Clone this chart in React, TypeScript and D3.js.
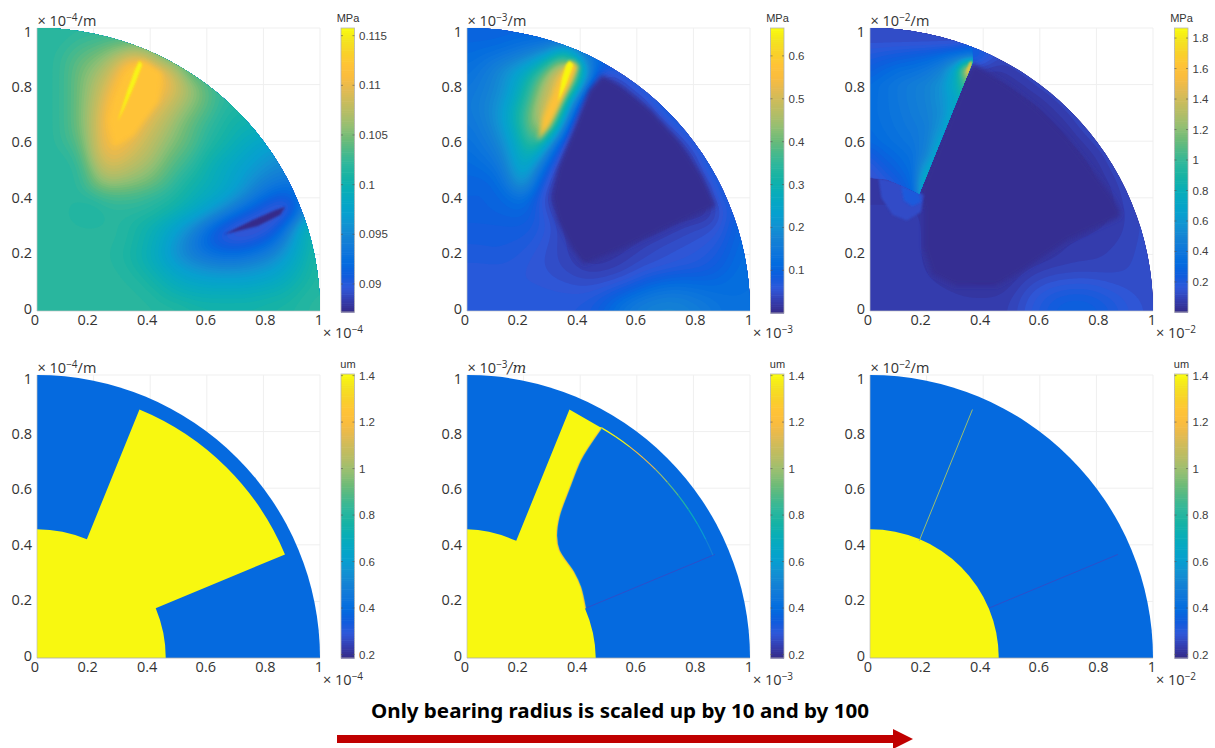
import React, { useMemo } from "react";
import * as d3 from "d3";

// parula colormap stops
const parulaStops = ["#352a87","#343daf","#2f58d9","#0f5cdd","#036cdf","#0f77db","#1482d4","#1292d2","#07a0cf","#06a7c4","#0aaeb6","#17b3a4","#2db79d","#4ab98a","#6dbb78","#92bf73","#b0bd68","#c8bc5d","#e2ba52","#f9bc3f","#ffc337","#f9d12a","#f4e31f","#f9fb0e"];

const tickLabels = ["0", "0.2", "0.4", "0.6", "0.8", "1"];
const tickValues = [0, 0.2, 0.4, 0.6, 0.8, 1];
const tickLabelShift = [-2, -6, -3, -1, 2, -1];

// Contact pressure fields, rows run from y = 1 down to y = 0 in steps of 0.05,
// columns from x = 0 in steps of 0.05 (a short row keeps its last value out to x = 1)
// bearing 1: 1e-3 MPa
const pressureSmall = [
  [102],
  [102,102,102,103,103,104,104],
  [102,102,103,104,105,106,108,110,107,103],
  [102,102,103,105,106,108,111.5,115,113,111,107,102],
  [102,102,103,105,107,109.5,112,114,112.5,111,109,106.5,104,102],
  [102,102,103,105,107.5,110.5,114,113,111.5,110,108,106,104.5,102.5,102],
  [102,102,103,105,108,111.5,113.5,111.5,110,108.5,106.5,105,103.5,102,101,101],
  [102,102,103,105,108,112,112.5,111,109,107.5,105.5,104,102.5,101.5,100.5,100,100],
  [102,102,103,104,108,111.5,111,109.5,108,106.5,105,104,102,101,100,99,98,98],
  [102,102,102,103,108,110.5,110,108.5,107.5,105.5,104,103,101,100,99,98,97,96,96],
  [102,102,102,102,106,109,108,107,106,104.5,103,102,100,99,98,97,96,95,95],
  [102,102,102,102,105,106.5,106,105.5,105,103.5,102,100.5,100,99,98,96,94.5,93.5,93,93],
  [102,102,102,102,102,103,103,103,102,102,101,100,99,98,96.5,94.5,92.5,91,91,95,100],
  [102,102,102,101.5,101,102,102,102,102,101,100,99,97.5,95.5,93,91,89.5,88.5,88.5,95,100],
  [102,102,102,102,102,102,102,101,100,99,97.5,95.5,93,90.5,89,88.5,89,90,95,101,101],
  [102,102,102,102,102,102,102,101,100,98.5,96,94,91.5,90,89.5,90,91,93,96.5,100,101],
  [102,102,102,102,102,102,101.5,100.5,99.5,97.5,95.5,94,93,92.5,92.5,93,94,95.5,98,100,102],
  [102,102,102,102,102,102,102,101,100,99,97.5,96.5,96,95.5,95.5,96,96.5,97.5,99,100.5,102],
  [102,102,102,102,102,102,102,102,101,100,99,98.5,98,98,98,98,98.5,99,100,101,102],
  [102,102,102,102,102,102,102,102,102,101,100.5,100,100,100,100,100,100.5,100.5,101,102,102],
  [102,102,102,102,102,102,102,102,102,102,102,101.5,101,101,101,101,101,101.5,101.5,102,102],
];
// bearing 10: 1e-2 MPa
const pressureMedium = [
  [10],
  [11,11,11,12,13,13,13],
  [12,13,14,15,17,20,26,40,14,12],
  [13,15,18,22,26,33,46,63,40,11,6,9],
  [14,16,18,22,30,40,53,60,23,3,1.5,4,9],
  [15,17,19,24,32,43,58,36,6,1.5,1,1,3,8,10],
  [15,17,20,27,36,47,60,20,2,1,1,1,1,3,9,10],
  [14,16,19,26,35,48,45,7,1.5,1,1,1,1,1,3,9],
  [13,15,17,23,32,42,18,3,1,1,1,1,1,1,1,3,9],
  [12,14,15,21,31,27,9,2,1,1,1,1,1,1,1,1,4,10],
  [11,12,13,18,30,16,5,1.5,1,1,1,1,1,1,1,1,1.5,9],
  [11,10,11,16,26,10,3,1,1,1,1,1,1,1,1,1,1,4,10],
  [10,10,10.5,11,14,7,2,1,1,1,1,1,1,1,1,1,1,2,9],
  [10,10,10.5,11,11.5,8,4,2,1,1,1,1,1,1,1,1,1,1.5,5,10],
  [9,9,9,9,9,8,6,3,1,1,1,1,1,1,2,3.5,4.5,5,6,11,12],
  [8.5,8.5,8.5,8.5,8.5,7,5,4,2,1,1,1.5,2.5,3.5,4.5,5,5.5,6,7.5,11,12],
  [8,8,8.5,8,7,6,5,4,2.5,1.2,2,3,4,5,5.5,6,6.5,7.5,9,11.5,13],
  [7,7,7,7,6.5,6,5,4.5,3.5,3,3.5,4,5,5.5,6,7,7.5,8.5,10,12,13],
  [6.5,6.5,6.5,6.5,6.5,6.5,6,5.5,5,5,5.5,6,8,10.5,12,12.5,12,11.5,12,13,13],
  [7,7,7,7,7,7,7,7,7,7.5,9,12,14,15.5,16,16,15,14,13,13,13],
  [7.5,7.5,7.5,7.5,7.5,7.5,7.5,7.5,7.5,9,12,15,17,18,19,18.5,17,16,14,13,13],
];
// bearing 100: 1e-2 MPa
const pressureLarge = [
  [14],
  [14,14,14,14,14,14,15,18,18,15],
  [14,14,14,14,14,14,14,45,30,14],
  [5,5,5,5,5,5,5,4,4,6,10,14],
  [4,4,4,4,4,4,4,4,4,4,5,8,14],
  [4,4,4,4,4,4,4,4,4,4,4,4,6,12,14],
  [4,4,4,4,4,4,4,4,4,4,4,4,4,6,12,14],
  [4,4,4,4,4,4,4,4,4,4,4,4,4,4,6,14],
  [4,4,4,4,4,4,4,4,4,4,4,4,4,4,4,7,14],
  [4,4,4,4,4,4,4,4,4,4,4,4,4,4,4,4,8,14],
  [4,4,4,4,4,4,4,4,4,4,4,4,4,4,4,4,5,12,14],
  [8,8,8,8,4,4,4,4,4,4,4,4,4,4,4,4,4,8,14],
  [8,8,8,8,8,5,4,4,4,4,4,4,4,4,4,4,4,5,13,14],
  [8,8,8,8,8,4,4,4,4,4,4,4,4,4,4,4,4,8,10,14],
  [9,9,9,9,8,4,4,4,4,4,4,4,4,4,4,6,8,9,10,14,14],
  [9,9,9,9,8,4,4,4,4,4,4,4,4,6,8,9,9,10,11,14,14],
  [9,9,9,9,8,4,4,4,4,4,4,4,4,7,9,10,10,11,12,14,15],
  [9,9,9,9,8,6,4,4,4,4,4,7,10,11,11,11,11,12,13,14,15],
  [9,9,9,9,9,8,7,4,4,4,7,12,14,16,17,18,17,15,14,14,15],
  [9,9,9,9,9,9,9,9,9,9,10,15,20,24,26,26,24,21,18,15,15],
  [9,9,9,9,9,9,9,9,9,9,11,17,22,27,30,30,28,24,20,16,15],
];
// region left of the slider edge at bearing 100, rows y = 1 down to y = 0.4
const pressureLargeWedge = [
  [14],
  [15,15,15,15,15,15,15,18,18],
  [22,24,26,28,30,34,40,45,45],
  [28,32,36,38,42,50,72,150,200],
  [34,38,42,46,50,58,78,115,140],
  [35,38,42,46,50,58,72,95,95],
  [35,38,41,45,49,56,76,85],
  [34,37,40,43,47,60,85,85],
  [32,35,38,41,48,70,85],
  [24,30,34,38,52,80,90],
  [17,24,30,36,68,95],
  [13,18,24,34,85,100],
  [12,14,18,30,90,90],
];
const wedgeOutline = [[0,1],[0.362,1],[0.362,0.878],[0.174,0.414],[0.12,0.44],[0.06,0.465],[0,0.47]];

// narrow ridges and flat zones: outline points in axis units and the value they reach
const zoneSmallHot = [[0.37,0.885],[0.44,0.84],[0.43,0.74],[0.34,0.62],[0.27,0.58],[0.255,0.68],[0.31,0.82]];
const ridgeSmallHigh = [[0.362,0.885],[0.372,0.87],[0.345,0.8],[0.305,0.71],[0.285,0.67],[0.32,0.78],[0.345,0.85]];
const ridgeSmallLow = [[0.877,0.368],[0.86,0.34],[0.78,0.3],[0.66,0.27],[0.76,0.32],[0.84,0.355]];
const zoneMediumHot = [[0.37,0.885],[0.395,0.865],[0.345,0.76],[0.29,0.65],[0.25,0.6],[0.265,0.68],[0.31,0.79],[0.345,0.86]];
const ridgeMediumHigh = [[0.362,0.885],[0.376,0.87],[0.35,0.8],[0.322,0.74],[0.335,0.82],[0.35,0.87]];
const ridgeLargeHigh = [[0.362,0.882],[0.344,0.835],[0.343,0.85],[0.352,0.88]];
const coreMedium = [[0.478,0.835],[0.55,0.79],[0.65,0.71],[0.75,0.6],[0.83,0.48],[0.88,0.37],[0.7,0.29],[0.55,0.22],[0.413,0.165],[0.37,0.22],[0.32,0.32],[0.30,0.4],[0.32,0.5],[0.38,0.65],[0.43,0.78]];
const coreLarge = [[0.174,0.414],[0.362,0.878],[0.5,0.79],[0.6,0.71],[0.7,0.61],[0.8,0.48],[0.86,0.4],[0.885,0.35],[0.88,0.33],[0.7,0.25],[0.52,0.13],[0.45,0.09],[0.3,0.09],[0.22,0.13],[0.19,0.22],[0.19,0.36]];
const lobeLargeOuter = [[0.03,0.47],[0.04,0.4],[0.08,0.34],[0.13,0.32],[0.18,0.35],[0.19,0.41],[0.12,0.45]];
const lobeLargeInner = [[0.11,0.44],[0.12,0.39],[0.15,0.37],[0.18,0.385],[0.174,0.42]];

// film thickness geometry
const bearingRadius = 0.455;
const padOuterRadius = 0.942;
const padTopCorner = [0.362, 0.878];
const padLeftCorner = [0.174, 0.414];
const padRightCorner = [0.876, 0.366];
const padLowCorner = [0.417, 0.175];
const filmFrontMedium = [[0.474,0.814],[0.43,0.75],[0.40,0.70],[0.36,0.60],[0.324,0.50],[0.315,0.43],[0.324,0.38],[0.377,0.30],[0.40,0.25],[0.417,0.175]];
const thinFilmValues = [1.4,1.4,1.25,1.15,1.0,0.9,0.8,0.7,0.6,0.5];

const filmLow = 0.39;
const filmHigh = 1.4;

const cbarPressureSmallTicks = [0.09,0.095,0.1,0.105,0.11,0.115];
const cbarPressureMediumTicks = [0.1,0.2,0.3,0.4,0.5,0.6];
const cbarPressureLargeTicks = [0.2,0.4,0.6,0.8,1,1.2,1.4,1.6,1.8];
const cbarFilmTicks = [0.2,0.4,0.6,0.8,1,1.2,1.4];

const SANS = "'Open Sans', sans-serif";
const HELV = "'Liberation Sans', Arial, sans-serif";
const SIZE = 283;

const parula = d3.scaleLinear<string>()
  .domain(d3.range(parulaStops.length).map((i) => i / (parulaStops.length - 1)))
  .range(parulaStops)
  .interpolate(d3.interpolateRgb);

function contourLayers(rows: number[][], domain: [number, number], left: number, top: number, blur: number) {
  const factor = 7;
  const cols = 21;
  const full = rows.map((r) => d3.range(cols).map((i) => (i < r.length ? r[i] : r[r.length - 1])));
  const nx = (cols - 1) * factor + 1;
  const ny = (full.length - 1) * factor + 1;
  const values = new Float64Array(nx * ny);
  for (let j = 0; j < ny; j++) {
    const fy = j / factor, j0 = Math.min(Math.floor(fy), full.length - 2), ty = fy - j0;
    for (let i = 0; i < nx; i++) {
      const fx = i / factor, i0 = Math.min(Math.floor(fx), cols - 2), tx = fx - i0;
      values[j * nx + i] =
        (full[j0][i0] * (1 - tx) + full[j0][i0 + 1] * tx) * (1 - ty) +
        (full[j0 + 1][i0] * (1 - tx) + full[j0 + 1][i0 + 1] * tx) * ty;
    }
  }
  d3.blur2({ data: values, width: nx, height: ny }, blur);
  const levels = d3.range(1, 72).map((i) => domain[0] + ((domain[1] - domain[0]) * i) / 72);
  const k = SIZE / (nx - 1);
  const projection = d3.geoIdentity().scale(k).translate([left - 0.5 * k, top - 0.5 * k]);
  const geo = d3.geoPath(projection as any);
  const color = (v: number) => parula((v - domain[0]) / (domain[1] - domain[0]));
  const contours = d3.contours().size([nx, ny]).thresholds(levels)(values as any);
  return contours
    .filter((c) => c.coordinates.length > 0)
    .map((c) => ({ d: geo(c as any) as string, fill: color(c.value) }));
}

function ColorBar({ x, top, bottom, domain, ticks, unit }: any) {
  const y = d3.scaleLinear().domain(domain).range([bottom, top]);
  const steps = d3.range(0, 128);
  const h = (bottom - top) / 128;
  return (
    <g>
      {steps.map((i) => (
        <rect key={i} x={x} y={bottom - (i + 1) * h} width={13.5} height={h + 0.6} fill={parula((i + 0.5) / 128)} />
      ))}
      <rect x={x} y={top} width={13.5} height={bottom - top} fill="none" stroke="#b5b5b5" strokeWidth={0.8} />
      {ticks.map((t: number) => (
        <g key={t}>
          <line x1={x} x2={x + 2} y1={y(t)} y2={y(t)} stroke="#555" strokeWidth={0.6} />
          <line x1={x + 11.5} x2={x + 13.5} y1={y(t)} y2={y(t)} stroke="#555" strokeWidth={0.6} />
          <text x={x + 18} y={y(t) + 4} fontFamily={HELV} fontSize={11.5} fill="#404040">{t}</text>
        </g>
      ))}
      <text x={x + 7} y={top - 6} textAnchor="middle" fontFamily={HELV} fontSize={11} fill="#333">{unit}</text>
    </g>
  );
}

function Frame({ left, top, exp, italicUnit }: any) {
  const x = d3.scaleLinear().domain([0, 1]).range([left, left + SIZE]);
  const yLab = d3.scaleLinear().domain([0, 1]).range([top + SIZE - 2.5, top + 3.5]);
  return (
    <g>
      {tickLabels.map((t, i) => (
        <g key={t}>
          <text x={x(tickValues[i]) + tickLabelShift[i]} y={top + SIZE + 14} textAnchor="middle" fontFamily={SANS} fontSize={14.5} fill="#333">{t}</text>
          <text x={left - 5} y={yLab(tickValues[i]) + 5} textAnchor="end" fontFamily={SANS} fontSize={14.5} fill="#333">{t}</text>
        </g>
      ))}
      <text x={left + 0.5} y={top - 2} fontFamily={SANS} fontSize={14.5} fill="#333">
        × 10<tspan dy={-5} fontSize={10}>−{exp}</tspan>
        <tspan dy={5} fontFamily={italicUnit ? "'DejaVu Serif', serif" : SANS} fontStyle={italicUnit ? "italic" : "normal"}>/m</tspan>
      </text>
      <text x={left + SIZE + 3} y={top + SIZE + 27} fontFamily={SANS} fontSize={14.5} fill="#333">
        × 10<tspan dy={-5} fontSize={10}>−{exp}</tspan>
      </text>
    </g>
  );
}

function Grid({ left, top }: any) {
  const x = d3.scaleLinear().domain([0, 1]).range([left, left + SIZE]);
  const y = d3.scaleLinear().domain([0, 1]).range([top + SIZE, top]);
  return (
    <g stroke="#efefef" strokeWidth={1}>
      {tickValues.slice(1).map((t) => (
        <g key={t}>
          <line x1={x(t)} x2={x(t)} y1={y(0)} y2={y(1)} />
          <line x1={x(0)} x2={x(1)} y1={y(t)} y2={y(t)} />
        </g>
      ))}
    </g>
  );
}

function disc(left: number, top: number, r = 1) {
  const p = d3.path();
  const cy = top + SIZE;
  p.moveTo(left, cy);
  p.lineTo(left + r * SIZE, cy);
  p.arc(left, cy, r * SIZE, 0, -Math.PI / 2, true);
  p.closePath();
  return p.toString();
}

function poly(points: number[][], left: number, top: number) {
  const x = d3.scaleLinear().domain([0, 1]).range([left, left + SIZE]);
  const y = d3.scaleLinear().domain([0, 1]).range([top + SIZE, top]);
  return d3.line()(points.map((q) => [x(q[0]), y(q[1])] as [number, number])) + "Z";
}

function PressurePanel({ id, left, top, rows, domain, exp, ridges, wedge }: any) {
  const layers = useMemo(() => contourLayers(rows, domain, left, top, 3.5), []);
  const wedgeLayers = useMemo(() => (wedge ? contourLayers(wedge.rows, domain, left, top, 1) : []), []);
  const color = (v: number) => parula((v - domain[0]) / (domain[1] - domain[0]));
  return (
    <g>
      <Grid left={left} top={top} />
      <clipPath id={id}><path d={disc(left, top)} /></clipPath>
      <g clipPath={`url(#${id})`}>
        <rect x={left} y={top} width={SIZE} height={SIZE} fill={color(domain[0])} />
        {layers.map((l, i) => <path key={i} d={l.d} fill={l.fill} />)}
        {(ridges || []).map((r: any, i: number) => (
          <path key={i} d={poly(r.points, left, top)} fill={color(r.value)} filter={`url(#${r.soft || "soft"})`} />
        ))}
        {wedge && (
          <g>
            <clipPath id={id + "w"}><path d={poly(wedge.outline, left, top)} /></clipPath>
            <g clipPath={`url(#${id}w)`}>
              {wedgeLayers.map((l, i) => <path key={i} d={l.d} fill={l.fill} />)}
              {wedge.ridges.map((r: any, i: number) => (
                <path key={i} d={poly(r.points, left, top)} fill={color(r.value)} filter="url(#soft)" />
              ))}
            </g>
          </g>
        )}
      </g>
      <line x1={left} x2={left} y1={top} y2={top + SIZE} stroke="#c4c4c4" strokeWidth={0.7} />
      <line x1={left} x2={left + SIZE} y1={top + SIZE} y2={top + SIZE} stroke="#c4c4c4" strokeWidth={0.7} />
      <Frame left={left} top={top} exp={exp} />
    </g>
  );
}

function FilmPanel({ left, top, exp, mode, domain }: any) {
  const color = (v: number) => parula((v - domain[0]) / (domain[1] - domain[0]));
  const x = d3.scaleLinear().domain([0, 1]).range([left, left + SIZE]);
  const y = d3.scaleLinear().domain([0, 1]).range([top + SIZE, top]);
  const ang = (q: number[]) => -Math.atan2(q[1], q[0]);
  const rTop = Math.hypot(padTopCorner[0], padTopCorner[1]);
  const R = bearingRadius * SIZE;
  const arcThin = d3.range(thinFilmValues.length).map((i) => {
    const a0 = Math.atan2(filmFrontMedium[0][1], filmFrontMedium[0][0]);
    const a1 = Math.atan2(padRightCorner[1], padRightCorner[0]);
    const n = thinFilmValues.length;
    const p = d3.path();
    p.arc(x(0), y(0), padOuterRadius * SIZE, -(a0 + ((a1 - a0) * i) / n), -(a0 + ((a1 - a0) * (i + 1)) / n));
    return { d: p.toString(), v: thinFilmValues[i] };
  });
  const frontCurve = d3.line().curve(d3.curveCatmullRom)(
    filmFrontMedium.map((q) => [x(q[0]), y(q[1])] as [number, number])
  ) as string;
  let shape: string;
  if (mode === "full") {
    const p = d3.path();
    p.moveTo(x(0), y(0));
    p.lineTo(x(0), y(bearingRadius));
    p.arc(x(0), y(0), R, -Math.PI / 2, ang(padLeftCorner));
    p.lineTo(x(padTopCorner[0]), y(padTopCorner[1]));
    p.arc(x(0), y(0), rTop * SIZE, ang(padTopCorner), ang(padRightCorner));
    p.lineTo(x(padLowCorner[0]), y(padLowCorner[1]));
    p.arc(x(0), y(0), R, ang(padLowCorner), 0);
    p.closePath();
    shape = p.toString();
  } else if (mode === "medium") {
    shape = frontCurve +
      `A${R},${R} 0 0 1 ${x(bearingRadius)},${y(0)}L${x(0)},${y(0)}L${x(0)},${y(bearingRadius)}` +
      `A${R},${R} 0 0 1 ${x(padLeftCorner[0])},${y(padLeftCorner[1])}L${x(padTopCorner[0])},${y(padTopCorner[1])}Z`;
  } else {
    shape = disc(left, top, bearingRadius);
  }
  return (
    <g>
      <Grid left={left} top={top} />
      <path d={disc(left, top)} fill={color(filmLow)} />
      {mode !== "full" && (
        <line x1={x(padRightCorner[0])} y1={y(padRightCorner[1])} x2={x(padLowCorner[0])} y2={y(padLowCorner[1])} stroke={color(0.27)} strokeWidth={1} opacity={0.9} />
      )}
      {mode === "medium" && arcThin.map((s, i) => (
        <path key={i} d={s.d} fill="none" stroke={color(s.v)} strokeWidth={1.2} />
      ))}
      {mode === "medium" && <path d={frontCurve} fill="none" stroke={color(0.6)} strokeWidth={3} />}
      {mode === "medium" && <path d={frontCurve} fill="none" stroke={color(1.2)} strokeWidth={1.8} />}
      <path d={shape} fill={color(filmHigh)} />
      {mode === "large" && (
        <line x1={x(padLeftCorner[0])} y1={y(padLeftCorner[1])} x2={x(padTopCorner[0])} y2={y(padTopCorner[1])} stroke={color(1.0)} strokeWidth={1} />
      )}
      <line x1={left} x2={left} y1={top} y2={top + SIZE} stroke="#bdbdbd" strokeWidth={0.7} />
      <line x1={left} x2={left + SIZE} y1={top + SIZE} y2={top + SIZE} stroke="#a8a8a8" strokeWidth={0.8} />
      <Frame left={left} top={top} exp={exp} italicUnit={mode === "medium"} />
    </g>
  );
}

export default function App() {
  const arrow = d3.path();
  arrow.moveTo(337, 735); arrow.lineTo(893, 735); arrow.lineTo(893, 729); arrow.lineTo(913, 739);
  arrow.lineTo(893, 749); arrow.lineTo(893, 743); arrow.lineTo(337, 743); arrow.closePath();
  return (
    <svg width={1215} height={748} style={{ position: "absolute", left: 0, top: 0, background: "#fff" }}>
      <defs>
        <filter id="soft" x="-30%" y="-30%" width="160%" height="160%"><feGaussianBlur stdDeviation="1.1" /></filter>
        <filter id="softWide" x="-20%" y="-20%" width="140%" height="140%"><feGaussianBlur stdDeviation="2.4" /></filter>
      </defs>
      <PressurePanel id="p1" left={37} top={28} rows={pressureSmall} domain={[87.2, 115.8]} exp={4}
        ridges={[{ points: zoneSmallHot, value: 112, soft: "softWide" }, { points: ridgeSmallHigh, value: 115.5 }, { points: ridgeSmallLow, value: 87.3 }]} />
      <PressurePanel id="p2" left={467} top={28} rows={pressureMedium} domain={[0.05, 66.5]} exp={3}
        ridges={[{ points: coreMedium, value: 0.8, soft: "softWide" }, { points: zoneMediumHot, value: 57, soft: "softWide" }, { points: ridgeMediumHigh, value: 66 }]} />
      <PressurePanel id="p3" left={870} top={28} rows={pressureLarge} domain={[0.3, 186.6]} exp={2}
        ridges={[{ points: coreLarge, value: 2.5, soft: "softWide" }, { points: lobeLargeOuter, value: 13 }, { points: lobeLargeInner, value: 21 }]}
        wedge={{ rows: pressureLargeWedge, outline: wedgeOutline, ridges: [{ points: ridgeLargeHigh, value: 165 }] }} />
      <ColorBar x={341} top={28} bottom={312} domain={[0.08718, 0.11577]} ticks={cbarPressureSmallTicks} unit="MPa" />
      <ColorBar x={770.5} top={28} bottom={313} domain={[0.0005, 0.665]} ticks={cbarPressureMediumTicks} unit="MPa" />
      <ColorBar x={1174.5} top={28} bottom={312} domain={[0.003, 1.866]} ticks={cbarPressureLargeTicks} unit="MPa" />

      <FilmPanel left={37} top={375} exp={4} mode="full" domain={[0.185, 1.407]} />
      <FilmPanel left={467} top={375} exp={3} mode="medium" domain={[0.185, 1.407]} />
      <FilmPanel left={870} top={375} exp={2} mode="large" domain={[0.185, 1.407]} />
      <ColorBar x={341} top={374} bottom={658} domain={[0.185, 1.407]} ticks={cbarFilmTicks} unit="um" />
      <ColorBar x={770.5} top={374} bottom={658} domain={[0.185, 1.407]} ticks={cbarFilmTicks} unit="um" />
      <ColorBar x={1174.5} top={374} bottom={658} domain={[0.185, 1.407]} ticks={cbarFilmTicks} unit="um" />

      <text x={371} y={718} fontFamily="'Noto Sans', sans-serif" fontWeight={700} fontSize={20} textLength={498} lengthAdjust="spacingAndGlyphs" fill="#000">
        Only bearing radius is scaled up by 10 and by 100
      </text>
      <path d={arrow.toString()} fill="#c00000" />
    </svg>
  );
}
